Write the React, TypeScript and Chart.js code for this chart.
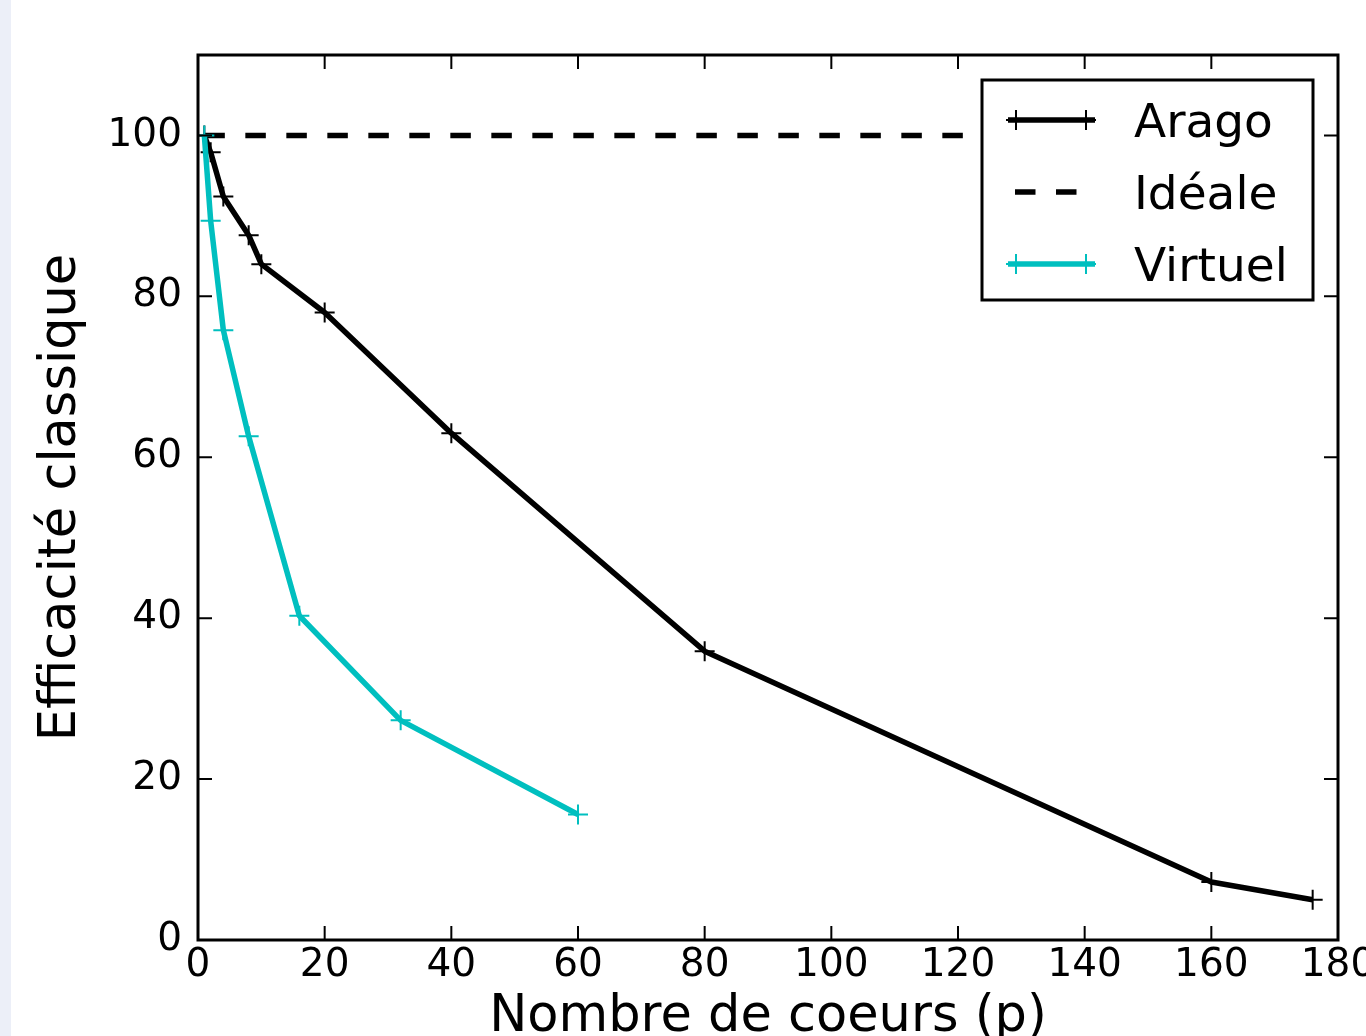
import { useEffect, useRef } from "react";
import { Chart, registerables } from "chart.js";

Chart.register(...registerables);

// ---- data ----
const aragoCores = [1, 2, 4, 8, 10, 20, 40, 80, 160, 176];
const aragoEff = [100, 97.9, 92.4, 87.6, 84.0, 78.0, 63.0, 35.9, 7.2, 5.0];

const idealCores = [1, 2, 4, 8, 10, 20, 40, 80, 160, 176];
const idealEff = [100, 100, 100, 100, 100, 100, 100, 100, 100, 100];

const virtuelCores = [1, 2, 4, 8, 16, 32, 60];
const virtuelEff = [100, 89.4, 75.8, 62.6, 40.3, 27.3, 15.6];

const seriesLabels = ["Arago", "Idéale", "Virtuel"];
const xTicks = [0, 20, 40, 60, 80, 100, 120, 140, 160, 180];
const yTicks = [0, 20, 40, 60, 80, 100];
const xRange = [0, 180];
const yRange = [0, 110];
const xTitle = "Nombre de coeurs (p)";
const yTitle = "Efficacité classique";

const FONT = "DejaVu Sans";
const CYAN = "#00bfbf";

const toPoints = (xs: number[], ys: number[]) => xs.map((x, i) => ({ x, y: ys[i] }));

const framePlugin = {
  id: "mplFrame",
  afterDatasetsDraw(chart: any) {
    const { ctx, chartArea } = chart;
    const { left, right, top, bottom } = chartArea;
    const xs = chart.scales.x;
    const ys = chart.scales.y;
    ctx.save();
    ctx.strokeStyle = "#000";
    ctx.lineWidth = 2;
    const tl = 14;
    ctx.beginPath();
    for (const v of xTicks) {
      const px = xs.getPixelForValue(v);
      ctx.moveTo(px, bottom);
      ctx.lineTo(px, bottom - tl);
      ctx.moveTo(px, top);
      ctx.lineTo(px, top + tl);
    }
    for (const v of yTicks) {
      const py = ys.getPixelForValue(v);
      ctx.moveTo(left, py);
      ctx.lineTo(left + tl, py);
      ctx.moveTo(right, py);
      ctx.lineTo(right - tl, py);
    }
    ctx.stroke();
    ctx.lineWidth = 3;
    ctx.strokeRect(left, top, right - left, bottom - top);
    ctx.restore();
  },
};

const legendPlugin = {
  id: "mplLegend",
  afterDraw(chart: any) {
    const { ctx, chartArea } = chart;
    const w = 331;
    const h = 220;
    const bx = chartArea.right - 25 - w;
    const by = chartArea.top + 25;
    ctx.save();
    ctx.fillStyle = "#fff";
    ctx.fillRect(bx, by, w, h);
    ctx.strokeStyle = "#000";
    ctx.lineWidth = 3;
    ctx.strokeRect(bx, by, w, h);
    const rows = [40, 112, 184];
    chart.data.datasets.forEach((ds: any, i: number) => {
      const ry = by + rows[i];
      ctx.strokeStyle = ds.borderColor;
      ctx.lineWidth = ds.borderWidth;
      ctx.lineCap = "butt";
      if (ds.borderDash && ds.borderDash.length) {
        ctx.setLineDash(ds.borderDash);
        ctx.beginPath();
        ctx.moveTo(bx + 33, ry);
        ctx.lineTo(bx + 97, ry);
        ctx.stroke();
        ctx.setLineDash([]);
      } else {
        ctx.beginPath();
        ctx.moveTo(bx + 26, ry);
        ctx.lineTo(bx + 113, ry);
        ctx.stroke();
        ctx.lineWidth = ds.pointBorderWidth;
        const r = ds.pointRadius;
        for (const mx of [bx + 34, bx + 104]) {
          ctx.beginPath();
          ctx.moveTo(mx - r, ry);
          ctx.lineTo(mx + r, ry);
          ctx.moveTo(mx, ry - r);
          ctx.lineTo(mx, ry + r);
          ctx.stroke();
        }
      }
      ctx.fillStyle = "#000";
      ctx.font = `47px "${FONT}"`;
      ctx.textAlign = "left";
      ctx.textBaseline = "alphabetic";
      ctx.fillText(ds.label, bx + 152, ry + 17);
    });
    ctx.restore();
  },
};

export default function App() {
  const ref = useRef<HTMLCanvasElement | null>(null);

  useEffect(() => {
    const canvas = ref.current;
    if (!canvas) return;
    const W = 1400;
    const H = 1100;
    const chart = new Chart(canvas, {
      type: "line",
      data: {
        datasets: [
          {
            label: seriesLabels[0],
            data: toPoints(aragoCores, aragoEff),
            borderColor: "#000",
            backgroundColor: "#000",
            borderWidth: 5.5,
            borderJoinStyle: "round",
            pointStyle: "cross",
            pointRadius: 10,
            pointBorderWidth: 2,
            pointBorderColor: "#000",
            tension: 0,
            fill: false,
            order: 3,
          },
          {
            label: seriesLabels[1],
            data: toPoints(idealCores, idealEff),
            borderColor: "#000",
            backgroundColor: "#000",
            borderWidth: 5.5,
            borderDash: [20.5, 20.5],
            pointRadius: 0,
            tension: 0,
            fill: false,
            order: 2,
          },
          {
            label: seriesLabels[2],
            data: toPoints(virtuelCores, virtuelEff),
            borderColor: CYAN,
            backgroundColor: CYAN,
            borderWidth: 5.5,
            borderJoinStyle: "round",
            pointStyle: "cross",
            pointRadius: 10,
            pointBorderWidth: 2,
            pointBorderColor: CYAN,
            tension: 0,
            fill: false,
            order: 1,
          },
        ] as any,
      },
      options: {
        responsive: false,
        maintainAspectRatio: false,
        devicePixelRatio: 1,
        animation: false,
        events: [],
        layout: { padding: { left: 0, top: 55, right: W - 1338, bottom: 0 } },
        plugins: {
          legend: { display: false },
          tooltip: { enabled: false },
        },
        scales: {
          x: {
            type: "linear",
            position: "bottom",
            min: xRange[0],
            max: xRange[1],
            grid: { display: false, drawTicks: false },
            border: { display: false },
            afterBuildTicks: (s: any) => {
              s.ticks = xTicks.map((v) => ({ value: v }));
            },
            afterFit: (s: any) => {
              s.height = H - 940;
              s.paddingLeft = 0;
              s.paddingRight = 0;
            },
            ticks: {
              autoSkip: false,
              maxRotation: 0,
              minRotation: 0,
              padding: 2,
              color: "#000",
              font: { family: FONT, size: 39 },
            },
            title: {
              display: true,
              text: xTitle,
              color: "#000",
              font: { family: FONT, size: 51 },
              padding: { top: 0, bottom: 52 },
            },
          },
          y: {
            type: "linear",
            position: "left",
            min: yRange[0],
            max: yRange[1],
            grid: { display: false, drawTicks: false },
            border: { display: false },
            afterBuildTicks: (s: any) => {
              s.ticks = yTicks.map((v) => ({ value: v }));
            },
            afterFit: (s: any) => {
              s.width = 198;
              s.paddingTop = 0;
              s.paddingBottom = 0;
            },
            ticks: {
              autoSkip: false,
              padding: 16,
              color: "#000",
              font: { family: FONT, size: 39 },
            },
            title: {
              display: true,
              text: yTitle,
              color: "#000",
              font: { family: FONT, size: 51 },
              padding: { top: 31, bottom: 0 },
            },
          },
        },
      } as any,
      plugins: [framePlugin, legendPlugin],
    });
    return () => chart.destroy();
  }, []);

  return (
    <div
      style={{
        position: "fixed",
        left: 0,
        top: 0,
        width: 1366,
        height: 1036,
        overflow: "hidden",
        background: "#fff",
      }}
    >
      <div
        style={{
          position: "absolute",
          left: 0,
          top: 0,
          width: 11,
          height: "100%",
          background: "#eceff8",
        }}
      />
      <canvas
        ref={ref}
        width={1400}
        height={1100}
        style={{ position: "absolute", left: 0, top: 0, width: 1400, height: 1100 }}
      />
    </div>
  );
}
